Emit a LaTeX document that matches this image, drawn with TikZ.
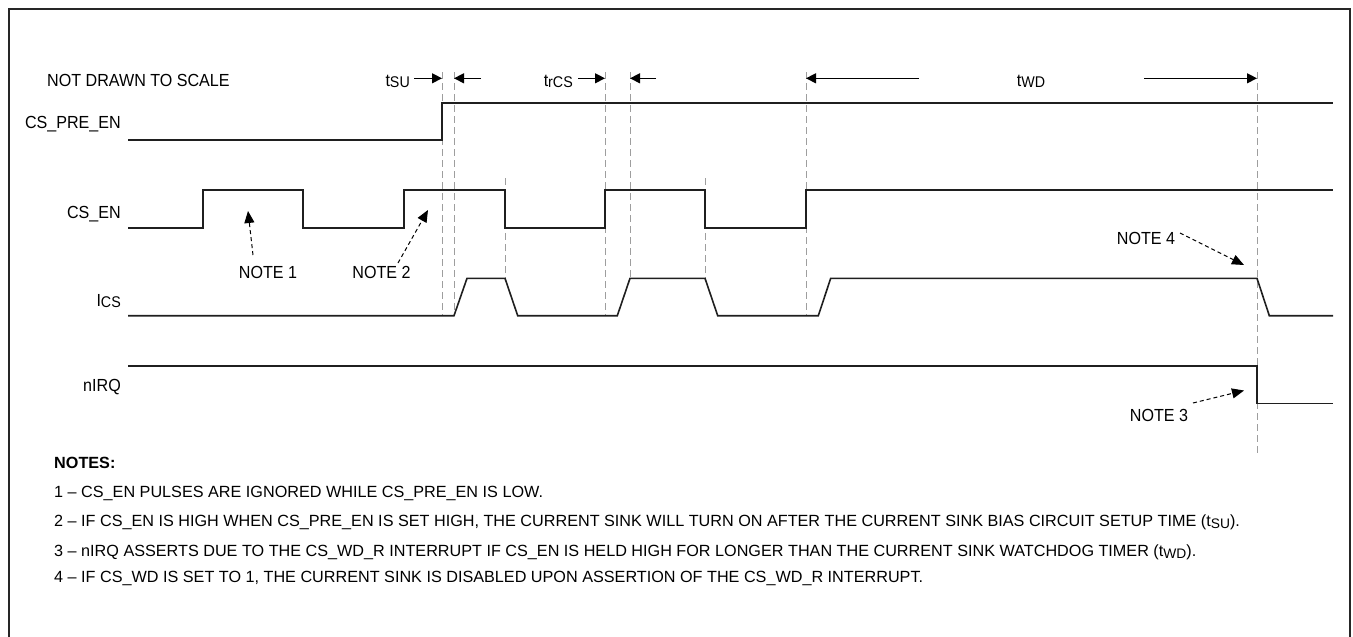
\documentclass[tikz,border=0pt]{standalone}
\usepackage{fontspec}
\setmainfont{Liberation Sans}[FakeStretch=0.92]
\newfontfamily\notefont{Liberation Sans}[Ligatures=TeX]
\usetikzlibrary{arrows.meta}
\newcommand\dsub[1]{\raisebox{-1.3pt}{\fontsize{15.5}{15.5}\selectfont #1}}
\newcommand\nsub[1]{\raisebox{-2.3pt}{\fontsize{13.8}{13.8}\selectfont #1}}
\begin{document}
\begin{tikzpicture}[x=1pt,y=-1pt,
  sig/.style={line width=1.6pt, draw=black!88, line join=miter},
  guide/.style={draw=black!38, line width=1pt, dash pattern=on 7pt off 4pt},
  dimarrow/.style={line width=1.2pt, -{Triangle[length=10pt,width=10pt]}},
  notearrow/.style={line width=1pt, dash pattern=on 4pt off 3pt, -{Triangle[length=12pt,width=10pt]}},
  lbl/.style={font=\fontsize{17.5}{17.5}\selectfont, inner sep=0pt},
  notetxt/.style={font=\notefont\fontsize{16.2}{16.2}\selectfont, inner sep=0pt, anchor=base west}]
\useasboundingbox (0,0) rectangle (1353,637);
% frame
\draw[line width=2pt, draw=black!85] (9,650) -- (9,9) -- (1350,9) -- (1350,650);

% signal labels
\node[lbl, anchor=base east] (lpre) at (121,128) {CS\_PRE\_EN};
\node[lbl, anchor=base east] (len)  at (121,218) {CS\_EN};
\node[lbl, anchor=base east] (lics) at (121,306) {I\dsub{CS}};
\node[lbl, anchor=base east] (lirq) at (121,391.5) {nIRQ};
\node[lbl, anchor=base west] (scale) at (47,86.5) {NOT DRAWN TO SCALE};

% guide lines
\draw[guide] (442,72) -- (442,315);
\draw[guide] (454,72) -- (454,315);
\draw[guide] (505,178) -- (505,278);
\draw[guide] (605,72) -- (605,315);
\draw[guide] (630,72) -- (630,278);
\draw[guide] (705,178) -- (705,278);
\draw[guide] (806,72) -- (806,315);
\draw[guide] (1257,72) -- (1257,453);

% waveforms
\draw[sig] (128,140) -- (442,140) -- (442,102.7) -- (1333,102.7);
\draw[sig] (128,228) -- (203,228) -- (203,190) -- (303,190) -- (303,228) -- (404,228)
  -- (404,190) -- (505,190) -- (505,228) -- (605,228) -- (605,190) -- (705,190)
  -- (705,228) -- (806,228) -- (806,190) -- (1333,190);
\draw[sig] (128,315.7) -- (454,315.7) -- (467,278.3) -- (505,278.3) -- (517.7,315.7)
  -- (617.3,315.7) -- (630,278.3) -- (705,278.3) -- (717.7,315.7) -- (818.3,315.7)
  -- (830.7,278.3) -- (1257,278.3) -- (1269.3,315.7) -- (1333,315.7);
\draw[sig] (128,365.7) -- (1257,365.7) -- (1257,403.3) -- (1333,403.3);

% timing labels and arrows
\node[lbl, anchor=base east] (tsu) at (410,86.5) {t\dsub{SU}};
\node[lbl, anchor=base east] (trcs) at (573,86.5) {t\dsub{rCS}};
\node[lbl, anchor=base] (twd) at (1031,86.5) {t\dsub{WD}};
\coordinate (a1s) at (414,78.3);  \coordinate (a1e) at (442,78.3);
\coordinate (a2s) at (481,78.3);  \coordinate (a2e) at (454,78.3);
\coordinate (a3s) at (578,78.3);  \coordinate (a3e) at (605,78.3);
\coordinate (a4s) at (656,78.3);  \coordinate (a4e) at (630,78.3);
\coordinate (a5s) at (919,78.3);  \coordinate (a5e) at (806,78.3);
\coordinate (a6s) at (1144,78.3); \coordinate (a6e) at (1257,78.3);
\draw[dimarrow] (a1s) -- (a1e);
\draw[dimarrow] (a2s) -- (a2e);
\draw[dimarrow] (a3s) -- (a3e);
\draw[dimarrow] (a4s) -- (a4e);
\draw[dimarrow] (a5s) -- (a5e);
\draw[dimarrow] (a6s) -- (a6e);

% note callouts
\node[lbl, anchor=base] (n1) at (268,278) {NOTE 1};
\node[lbl, anchor=base] (n2) at (381.5,278) {NOTE 2};
\node[lbl, anchor=base] (n4) at (1146,244) {NOTE 4};
\node[lbl, anchor=base] (n3) at (1159,421.5) {NOTE 3};
\coordinate (n1s) at (253,255);   \coordinate (n1t) at (248,211);
\coordinate (n2s) at (398,263);   \coordinate (n2t) at (428,210);
\coordinate (n4s) at (1180,233);  \coordinate (n4t) at (1244,265);
\coordinate (n3s) at (1193,403);  \coordinate (n3t) at (1244,390.5);
\draw[notearrow] (n1s) -- (n1t);
\draw[notearrow] (n2s) -- (n2t);
\draw[notearrow] (n4s) -- (n4t);
\draw[notearrow] (n3s) -- (n3t);

% notes
\node[notetxt, font=\notefont\fontsize{16.2}{16.2}\selectfont\bfseries] (notes) at (54,468) {NOTES:};
\node[notetxt] (note1) at (54,497) {1 – CS\_EN PULSES ARE IGNORED WHILE CS\_PRE\_EN IS LOW.};
\node[notetxt] (note2) at (54,526.5) {2 – IF CS\_EN IS HIGH WHEN CS\_PRE\_EN IS SET HIGH, THE CURRENT SINK WILL TURN ON AFTER THE CURRENT SINK BIAS CIRCUIT SETUP TIME (t\nsub{SU}).};
\node[notetxt] (note3) at (54,556) {3 – nIRQ ASSERTS DUE TO THE CS\_WD\_R INTERRUPT IF CS\_EN IS HELD HIGH FOR LONGER THAN THE CURRENT SINK WATCHDOG TIMER (t\nsub{WD}).};
\node[notetxt] (note4) at (54,582) {4 – IF CS\_WD IS SET TO 1, THE CURRENT SINK IS DISABLED UPON ASSERTION OF THE CS\_WD\_R INTERRUPT.};
\end{tikzpicture}
\end{document}
